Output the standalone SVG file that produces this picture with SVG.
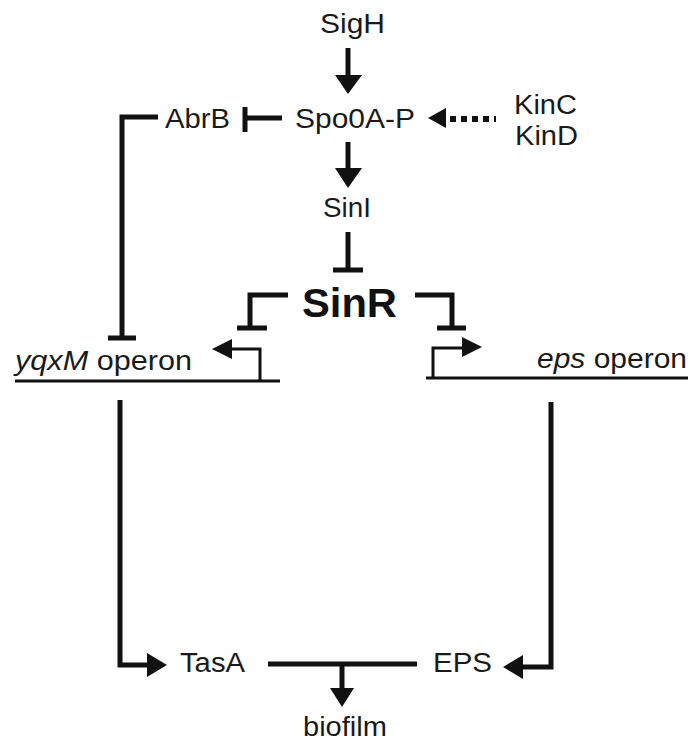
<svg xmlns="http://www.w3.org/2000/svg" width="688" height="744" viewBox="0 0 688 744">
<style>
.t{font-family:"Liberation Sans",Arial,sans-serif;font-size:27px;fill:#1a1a1a}
.b{font-family:"Liberation Sans",Arial,sans-serif;font-size:40px;font-weight:bold;fill:#111}
.thick{fill:none;stroke:#111;stroke-width:5}
.thin{fill:none;stroke:#111;stroke-width:3}
.head{fill:#111}
</style>
<rect width="688" height="744" fill="#fff"/>
<g id="SigH"><text class="t" x="320" y="33" textLength="65" lengthAdjust="spacingAndGlyphs">SigH</text></g>
<g id="Spo0A-P"><text class="t" x="295" y="128" textLength="120" lengthAdjust="spacingAndGlyphs">Spo0A-P</text></g>
<g id="AbrB"><text class="t" x="165" y="128" textLength="65" lengthAdjust="spacingAndGlyphs">AbrB</text></g>
<g id="KinCD"><text class="t" x="514" y="114" textLength="63" lengthAdjust="spacingAndGlyphs">KinC</text><text class="t" x="515" y="145" textLength="63" lengthAdjust="spacingAndGlyphs">KinD</text></g>
<g id="SinI"><text class="t" x="323" y="217" textLength="48" lengthAdjust="spacingAndGlyphs">SinI</text></g>
<g id="SinR"><text class="b" x="302" y="317" textLength="95" lengthAdjust="spacingAndGlyphs">SinR</text></g>
<g id="yqxM"><text class="t" x="15" y="370" textLength="177" lengthAdjust="spacingAndGlyphs"><tspan font-style="italic">yqxM</tspan> operon</text>
<path class="thin" d="M15,381 H280"/><path class="thin" d="M260,380 V349 H228"/><polygon class="head" points="212,349 232,339 232,359"/></g>
<g id="eps"><text class="t" x="537" y="368" textLength="150" lengthAdjust="spacingAndGlyphs"><tspan font-style="italic">eps</tspan> operon</text>
<path class="thin" d="M426,378 H688"/><path class="thin" d="M433,378 V348 H465"/><polygon class="head" points="482,347 462,337 462,357"/></g>
<g id="TasA"><text class="t" x="180" y="672" textLength="65" lengthAdjust="spacingAndGlyphs">TasA</text></g>
<g id="EPS"><text class="t" x="433" y="672" textLength="59" lengthAdjust="spacingAndGlyphs">EPS</text></g>
<g id="biofilm"><text class="t" x="303" y="736" textLength="84" lengthAdjust="spacingAndGlyphs">biofilm</text></g>
<g id="connectors">
<path class="thick" d="M348,48 V77"/><polygon class="head" points="335,75 362,75 348,94"/>
<path class="thick" d="M348,142 V170"/><polygon class="head" points="335,168 362,168 348,188"/>
<path class="thick" d="M348,232 V270 M333,270 H363"/>
<path class="thick" d="M245,118 H282 M245,107 V132"/>
<path class="thick" d="M158,117 H122 V338 M108,338 H136"/>
<polygon class="head" points="428,118 446,108 446,128"/>
<path fill="none" stroke="#111" stroke-width="6" stroke-dasharray="6 5" d="M450,119 H496"/>
<path class="thick" d="M288,295 H250 V328 M237,328 H267"/>
<path class="thick" d="M415,295 H452 V328 M437,328 H466"/>
<path class="thick" d="M120,400 V665 H150"/><polygon class="head" points="167,665 147,653 147,677"/>
<path class="thick" d="M551,402 V667 H520"/><polygon class="head" points="503,667 523,655 523,679"/>
<path class="thick" d="M268,664 H417"/>
<path class="thick" d="M342,664 V690"/><polygon class="head" points="330,688 354,688 342,707"/>
</g>
</svg>
